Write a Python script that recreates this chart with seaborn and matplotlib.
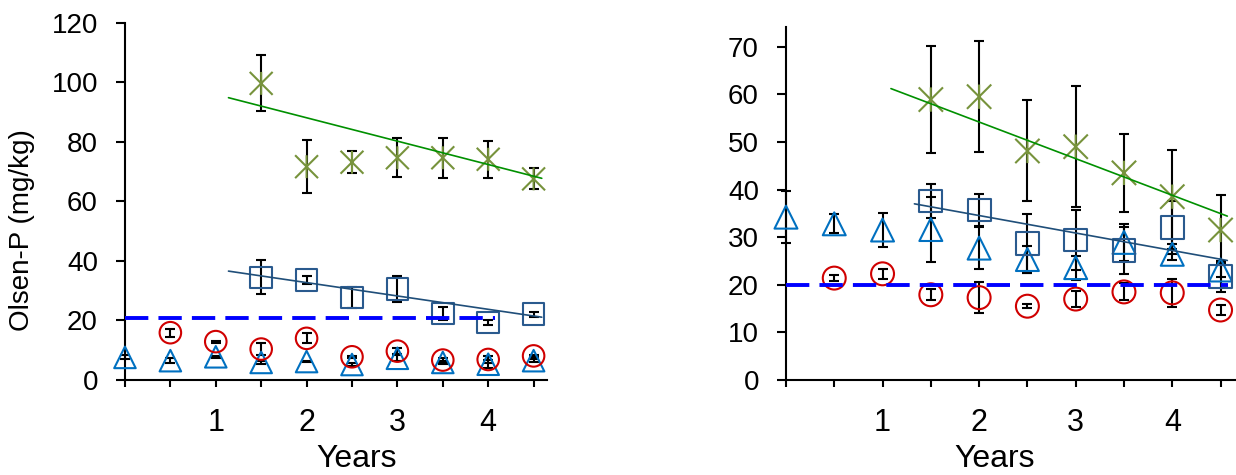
import matplotlib
matplotlib.use("Agg")
import matplotlib.pyplot as plt
from matplotlib.path import Path
import seaborn as sns

# ---------------- data ----------------
years = [0, 0.5, 1, 1.5, 2, 2.5, 3, 3.5, 4, 4.5]
tick_labels = ["", "", "1", "", "2", "", "3", "", "4", ""]
years_circ = years[1:]
years_late = years[3:]

# left panel
left_tri = [7.6, 6.5, 7.8, 5.9, 6.2, 5.2, 7.3, 5.9, 5.3, 6.5]
left_tri_err = [0.7, 0.8, 0.3, 0.6, 0.3, 0.4, 1.0, 0.5, 1.3, 0.5]
left_circ = [15.9, 12.9, 10.4, 14.0, 7.8, 9.7, 6.7, 6.9, 8.1]
left_circ_err = [1.4, 0.3, 2.0, 1.7, 0.4, 1.0, 0.6, 1.2, 0.4]
left_sq = [34.5, 33.6, 27.7, 30.5, 22.4, 19.3, 22.1]
left_sq_err = [5.7, 1.5, 3.4, 4.4, 2.1, 0.7, 0.8]
left_star = [99.7, 71.7, 73.2, 74.7, 74.7, 74.2, 67.6]
left_star_err = [9.4, 9.0, 3.7, 6.5, 6.8, 6.3, 3.5]
left_ref_level = 21.0
left_ref_span = [0, 4.07]
left_trend_star = dict(span=[1.14, 4.59], slope=-7.855, intercept=103.85)
left_trend_sq = dict(span=[1.14, 4.59], slope=-4.49, intercept=41.72)

# right panel
right_tri = [34.2, 32.8, 31.5, 31.6, 27.7, 25.3, 23.6, 28.9, 26.4, 23.1]
right_tri_err = [5.4, 2.0, 3.6, 6.8, 4.4, 2.9, 2.5, 3.9, 1.2, 1.5]
right_circ = [21.4, 22.3, 17.9, 17.3, 15.5, 17.0, 18.5, 18.3, 14.7]
right_circ_err = [0.7, 1.0, 1.2, 3.2, 0.4, 1.6, 1.8, 2.9, 1.0]
right_sq = [37.6, 35.7, 28.7, 29.4, 27.2, 32.0, 21.7]
right_sq_err = [3.5, 3.4, 6.2, 6.3, 5.0, 5.6, 3.3]
right_star = [58.9, 59.5, 48.1, 49.0, 43.5, 38.5, 31.5]
right_star_err = [11.2, 11.6, 10.6, 12.7, 8.2, 9.9, 7.3]
right_ref_level = 20.0
right_ref_span = [0, 4.58]
right_trend_star = dict(span=[1.087, 4.57], slope=-7.69, intercept=69.56)
right_trend_sq = dict(span=[1.33, 4.57], slope=-3.67, intercept=41.88)

# ---------------- style ----------------
sns.set_style("ticks")
plt.rcParams["font.family"] = ["Liberation Sans", "DejaVu Sans"]
plt.rcParams.update({
    "axes.edgecolor": "black", "xtick.color": "black", "ytick.color": "black",
    "text.color": "black", "axes.labelcolor": "black",
})

C_TRI = "#0070C0"
C_CIRC = "#D00000"
C_SQ = "#2A5A8E"
C_STAR = "#77933C"
C_TREND_STAR = "#009000"
C_TREND_SQ = "#1F4E79"
C_REF = "#0000FF"

star = Path([(-1, -1), (1, 1), (-1, 1), (1, -1), (0, -1), (0, 1)],
            [Path.MOVETO, Path.LINETO] * 3)

fig = plt.figure(figsize=(12.36, 4.75), dpi=100)
axL = fig.add_axes([0.1011, 0.2, 0.3412, 0.7516])
axR = fig.add_axes([0.6359, 0.2, 0.3641, 0.7438])


def series(ax, x, y, err, marker, color, size):
    cont = ax.errorbar(x, y, yerr=err, fmt="none", ecolor="black",
                       elinewidth=1.5, capsize=3.6, capthick=1.5, zorder=2)
    for a in list(cont.lines[1]) + list(cont.lines[2]):
        a.set_clip_on(False)
    sns.scatterplot(x=x, y=y, marker=marker, s=size, color=color,
                    facecolors="none", edgecolor=color, linewidth=1.5,
                    ax=ax, zorder=3, legend=False)
    for c in ax.collections:
        c.set_clip_on(False)


def trend(ax, t, color):
    xs = t["span"]
    ys = [t["intercept"] + t["slope"] * v for v in xs]
    sns.lineplot(x=xs, y=ys, color=color, linewidth=1.2, ax=ax, zorder=4)


def panel(ax, tri, tri_e, circ, circ_e, sq, sq_e, st, st_e, ref, ref_span,
          t_star, t_sq, ms):
    series(ax, years, tri, tri_e, "^", C_TRI, ms ** 2)
    series(ax, years_circ, circ, circ_e, "o", C_CIRC, ms ** 2)
    series(ax, years_late, sq, sq_e, "s", C_SQ, ms ** 2)
    series(ax, years_late, st, st_e, star, C_STAR, (ms + 1) ** 2)
    trend(ax, t_star, C_TREND_STAR)
    trend(ax, t_sq, C_TREND_SQ)
    sns.lineplot(x=ref_span, y=[ref, ref], color=C_REF, linewidth=2.8,
                 linestyle=(0, (6.0, 2.6)), ax=ax, zorder=5)
    ax.set_xticks(years)
    ax.set_xticklabels(tick_labels)
    ax.tick_params(axis="x", length=5, width=1.5, pad=15, labelsize=22)
    ax.tick_params(axis="y", length=6.5, width=1.5, pad=13, labelsize=20)
    for s in ax.spines.values():
        s.set_linewidth(1.5)
    sns.despine(ax=ax)


panel(axL, left_tri, left_tri_err, left_circ, left_circ_err, left_sq,
      left_sq_err, left_star, left_star_err, left_ref_level, left_ref_span,
      left_trend_star, left_trend_sq, 15.5)
panel(axR, right_tri, right_tri_err, right_circ, right_circ_err, right_sq,
      right_sq_err, right_star, right_star_err, right_ref_level, right_ref_span,
      right_trend_star, right_trend_sq, 16.5)

axL.set_xlim(0, 4.644)
axL.set_ylim(0, 120)
axL.set_yticks(range(0, 121, 20))
axR.set_xlim(0, 4.66)
axR.set_ylim(0, 74.2)
axR.set_yticks(range(0, 71, 10))

axL.set_ylabel("Olsen-P (mg/kg)", fontsize=20)
axL.yaxis.set_label_coords(-0.245, 0.419)
axL.yaxis.label.set_verticalalignment("center")

axL.set_xlabel("Years", fontsize=23)
axL.xaxis.set_label_coords(0.549, -0.178)
axR.set_xlabel("Years", fontsize=23)
axR.xaxis.set_label_coords(0.464, -0.180)

fig.savefig("out.png", dpi=100)
